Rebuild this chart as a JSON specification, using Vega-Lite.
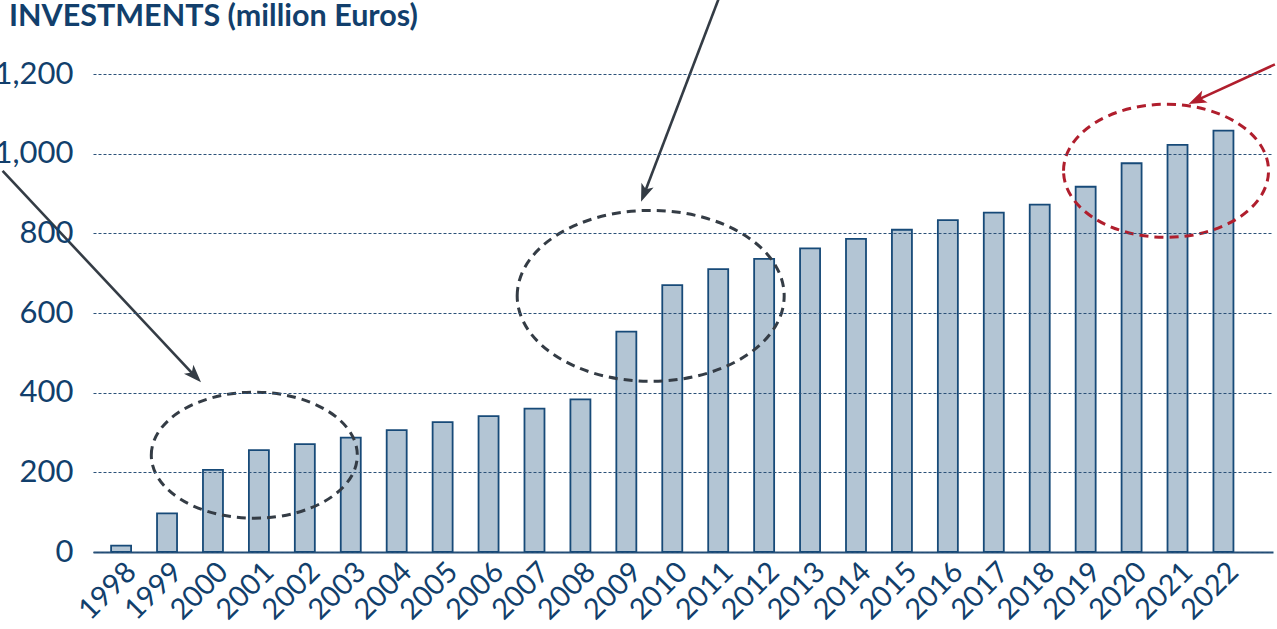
{
  "$schema": "https://vega.github.io/schema/vega-lite/v6.json",
  "autosize": {"type": "none"},
  "width": 1180,
  "height": 478,
  "padding": {"left": 93, "top": 74, "right": 4, "bottom": 77},
  "background": "white",
  "config": {
    "view": {"stroke": null},
    "font": "Lato"
  },
  "title": {
    "text": "INVESTMENTS (million Euros)",
    "anchor": "start",
    "frame": "group",
    "dx": -84,
    "offset": 0,
    "dy": 61,
    "baseline": "alphabetic",
    "font": "Lato",
    "fontSize": 30.5,
    "fontWeight": "bold",
    "color": "#123f6c"
  },
  "layer": [
    {
      "data": {"values": [
        {"year": 1998, "value": 16},
        {"year": 1999, "value": 97},
        {"year": 2000, "value": 206},
        {"year": 2001, "value": 256},
        {"year": 2002, "value": 271},
        {"year": 2003, "value": 287},
        {"year": 2004, "value": 306},
        {"year": 2005, "value": 326},
        {"year": 2006, "value": 341},
        {"year": 2007, "value": 360},
        {"year": 2008, "value": 383},
        {"year": 2009, "value": 553},
        {"year": 2010, "value": 670},
        {"year": 2011, "value": 710},
        {"year": 2012, "value": 736},
        {"year": 2013, "value": 762},
        {"year": 2014, "value": 786},
        {"year": 2015, "value": 809},
        {"year": 2016, "value": 833},
        {"year": 2017, "value": 852},
        {"year": 2018, "value": 872},
        {"year": 2019, "value": 917},
        {"year": 2020, "value": 976},
        {"year": 2021, "value": 1022},
        {"year": 2022, "value": 1058}
      ]},
      "mark": {"type": "bar", "size": 20, "fill": "#b3c5d4", "stroke": "#174a78", "strokeWidth": 1.8},
      "encoding": {
        "x": {
          "field": "year", "type": "quantitative",
          "scale": {"domain": [1997.497, 2022.97], "nice": false, "zero": false},
          "axis": {
            "title": null,
            "values": [1998,1999,2000,2001,2002,2003,2004,2005,2006,2007,2008,2009,2010,2011,2012,2013,2014,2015,2016,2017,2018,2019,2020,2021,2022],
            "format": "d",
            "labelAngle": -45,
            "labelAlign": "right",
            "labelBaseline": "top",
            "labelPadding": 5,
            "labelFont": "Lato",
            "labelFontSize": 29,
            "labelColor": "#123f6c",
            "labelOverlap": false,
            "labelFlush": false,
            "ticks": false,
            "grid": false,
            "domainColor": "#1f4a75",
            "domainWidth": 2
          }
        },
        "y": {
          "field": "value", "type": "quantitative",
          "scale": {"domain": [0, 1200], "nice": false},
          "axis": {
            "title": null,
            "values": [0, 200, 400, 600, 800, 1000, 1200],
            "format": ",d",
            "labelFont": "Lato",
            "labelFontSize": 31,
            "labelColor": "#123f6c",
            "labelPadding": 20,
            "ticks": false,
            "domain": false,
            "grid": true,
            "gridColor": "#2b5178",
            "gridWidth": 1,
            "gridDash": [3, 2],
            "zindex": 1
          }
        }
      }
    },
    {
      "data": {"values": [{"year": 2000.9, "value": 243}]},
      "mark": {"type": "point", "shape": "M-1,0A1,0.612,0,1,1,1,0A1,0.612,0,1,1,-1,0Z", "size": 42436, "filled": false, "stroke": "#343c45", "strokeWidth": 3, "strokeDash": [9, 6], "opacity": 1},
      "encoding": {"x": {"field": "year", "type": "quantitative"}, "y": {"field": "value", "type": "quantitative"}}
    },
    {
      "data": {"values": [{"year": 2009.53, "value": 643}]},
      "mark": {"type": "point", "shape": "M-1,0A1,0.64,0,1,1,1,0A1,0.64,0,1,1,-1,0Z", "size": 71289, "filled": false, "stroke": "#343c45", "strokeWidth": 3, "strokeDash": [9, 6], "opacity": 1},
      "encoding": {"x": {"field": "year", "type": "quantitative"}, "y": {"field": "value", "type": "quantitative"}}
    },
    {
      "data": {"values": [{"year": 2020.75, "value": 957}]},
      "mark": {"type": "point", "shape": "M-1,0A1,0.649,0,1,1,1,0A1,0.649,0,1,1,-1,0Z", "size": 42025, "filled": false, "stroke": "#b01e2d", "strokeWidth": 3, "strokeDash": [9, 6], "opacity": 1},
      "encoding": {"x": {"field": "year", "type": "quantitative"}, "y": {"field": "value", "type": "quantitative"}}
    },
    {
      "data": {"values": [
        {"x1": 1995.42, "y1": 957, "x2": 1999.617, "y2": 440, "color": "dark"},
        {"x1": 2011.03, "y1": 1395, "x2": 2009.386, "y2": 898, "color": "dark"},
        {"x1": 2023.12, "y1": 1224, "x2": 2021.40, "y2": 1133, "color": "red"}
      ]},
      "mark": {"type": "rule", "strokeWidth": 2.6},
      "encoding": {
        "x": {"field": "x1", "type": "quantitative"},
        "y": {"field": "y1", "type": "quantitative"},
        "x2": {"field": "x2"},
        "y2": {"field": "y2"},
        "color": {"field": "color", "type": "nominal", "scale": {"domain": ["dark", "red"], "range": ["#343c45", "#b01e2d"]}, "legend": null}
      }
    },
    {
      "data": {"values": [
        {"x": 1999.74, "y": 426, "angle": 136.7, "color": "dark"},
        {"x": 2009.32, "y": 879, "angle": 201, "color": "dark"},
        {"x": 2021.24, "y": 1125, "angle": 245.7, "color": "red"}
      ]},
      "mark": {"type": "point", "shape": "M0,0L-0.65,1.8L0,1.35L0.65,1.8Z", "size": 400, "filled": true, "opacity": 1, "strokeWidth": 0},
      "encoding": {
        "x": {"field": "x", "type": "quantitative"},
        "y": {"field": "y", "type": "quantitative"},
        "angle": {"field": "angle", "type": "quantitative", "scale": null},
        "color": {"field": "color", "type": "nominal", "scale": {"domain": ["dark", "red"], "range": ["#343c45", "#b01e2d"]}, "legend": null}
      }
    }
  ]
}
